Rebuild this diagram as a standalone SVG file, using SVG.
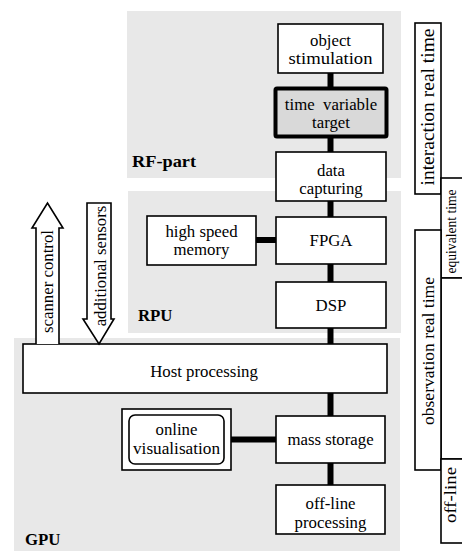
<svg xmlns="http://www.w3.org/2000/svg" width="462" height="551" viewBox="0 0 462 551" font-family="'Liberation Serif', 'Times New Roman', Times, 'DejaVu Serif', serif">
<style>
.bg{fill:#e8e8e8;stroke:none}
.box{fill:#fff;stroke:#000;stroke-width:1.6}
.t{font-family:'Liberation Serif','Times New Roman',Times,'DejaVu Serif',serif;font-size:16.8px;fill:#000;text-anchor:middle}
.lbl{font-family:'Liberation Serif','Times New Roman',Times,'DejaVu Serif',serif;font-size:16.8px;font-weight:bold;fill:#000}
.con{stroke:#000;stroke-width:6;fill:none}
.arr{fill:#fff;stroke:#000;stroke-width:1.6;stroke-linejoin:miter}
</style>
<g id="regions">
<rect class="bg" x="127" y="11" width="274" height="167"/>
<rect class="bg" x="128" y="191" width="273" height="142"/>
<rect class="bg" x="14" y="338" width="386" height="213"/>
<text class="lbl" x="132" y="167" textLength="64" lengthAdjust="spacingAndGlyphs">RF-part</text>
<text class="lbl" x="138" y="321">RPU</text>
<text class="lbl" x="25" y="545">GPU</text>
</g>
<g id="connectors">
<line class="con" x1="330.5" y1="73" x2="330.5" y2="87"/>
<line class="con" x1="330.5" y1="138" x2="330.5" y2="152"/>
<line class="con" x1="330.5" y1="201" x2="330.5" y2="217"/>
<line class="con" x1="330.5" y1="264" x2="330.5" y2="282"/>
<line class="con" x1="330.5" y1="328" x2="330.5" y2="344"/>
<line class="con" x1="330.5" y1="393" x2="330.5" y2="416"/>
<line class="con" x1="330.5" y1="463" x2="330.5" y2="485"/>
<line class="con" x1="256" y1="240" x2="276" y2="240"/>
<line class="con" x1="231" y1="439.5" x2="276" y2="439.5"/>
</g>
<g id="object-stimulation">
<rect class="box" x="278" y="24" width="105" height="49"/>
<text class="t" x="330.5" y="46">object</text>
<text class="t" x="330.5" y="64" textLength="84" lengthAdjust="spacingAndGlyphs">stimulation</text>
</g>
<g id="time-variable-target">
<rect x="275.5" y="88.5" width="111" height="48" fill="#d9d9d9" stroke="#000" stroke-width="4" rx="1.5"/>
<text class="t" x="331" y="110" xml:space="preserve">time  variable</text>
<text class="t" x="331" y="128">target</text>
</g>
<g id="data-capturing">
<rect class="box" x="276" y="152" width="110" height="49"/>
<text class="t" x="331" y="176">data</text>
<text class="t" x="331" y="194">capturing</text>
</g>
<g id="high-speed-memory">
<rect class="box" x="147" y="216" width="109" height="49"/>
<text class="t" x="201.5" y="237">high speed</text>
<text class="t" x="201.5" y="255">memory</text>
</g>
<g id="fpga">
<rect class="box" x="276" y="217" width="110" height="47"/>
<text class="t" x="331" y="246">FPGA</text>
</g>
<g id="dsp">
<rect class="box" x="276" y="282" width="110" height="46"/>
<text class="t" x="331" y="311">DSP</text>
</g>
<g id="host-processing">
<rect class="box" x="23" y="344" width="364" height="49"/>
<text class="t" x="204" y="377">Host processing</text>
</g>
<g id="online-visualisation">
<rect class="box" x="122" y="409" width="109" height="61"/>
<rect class="box" x="129" y="415" width="95" height="49" rx="6"/>
<text class="t" x="176.5" y="435">online</text>
<text class="t" x="176.5" y="454" textLength="87" lengthAdjust="spacingAndGlyphs">visualisation</text>
</g>
<g id="mass-storage">
<rect class="box" x="276" y="416" width="109" height="47"/>
<text class="t" x="330.5" y="445">mass storage</text>
</g>
<g id="off-line-processing">
<rect class="box" x="276" y="485" width="109" height="49"/>
<text class="t" x="330.5" y="509">off-line</text>
<text class="t" x="330.5" y="528">processing</text>
</g>
<g id="scanner-control">
<path class="arr" d="M36,344 L36,228 L32,228 L47.5,203 L63,228 L59,228 L59,344"/>
<text class="t" transform="translate(53,281.5) rotate(-90)">scanner control</text>
</g>
<g id="additional-sensors">
<path class="arr" d="M87,203 L111,203 L111,319 L114,319 L99,344 L83,319 L87,319 Z"/>
<text class="t" transform="translate(106,266) rotate(-90)">additional sensors</text>
</g>
<g id="interaction-real-time">
<rect class="box" x="415" y="23" width="26" height="171"/>
<text class="t" transform="translate(434,107) rotate(-90)" style="font-size:18px" textLength="157" lengthAdjust="spacingAndGlyphs">interaction real time</text>
</g>
<g id="equivalent-time">
<rect class="box" x="441" y="178" width="24" height="100"/>
<text class="t" transform="translate(456,231.5) rotate(-90)" style="font-size:15px" textLength="84" lengthAdjust="spacingAndGlyphs">equivalent time</text>
</g>
<g id="blank-column">
<rect class="box" x="441" y="278" width="24" height="181"/>
</g>
<g id="observation-real-time">
<rect class="box" x="415" y="230" width="26" height="240"/>
<text class="t" transform="translate(434,351) rotate(-90)" style="font-size:17.5px" textLength="148" lengthAdjust="spacingAndGlyphs">observation real time</text>
</g>
<g id="off-line">
<rect class="box" x="441" y="459" width="24" height="84"/>
<text class="t" transform="translate(456,495) rotate(-90)" style="font-size:17px" textLength="56" lengthAdjust="spacingAndGlyphs">off-line</text>
</g>
</svg>
